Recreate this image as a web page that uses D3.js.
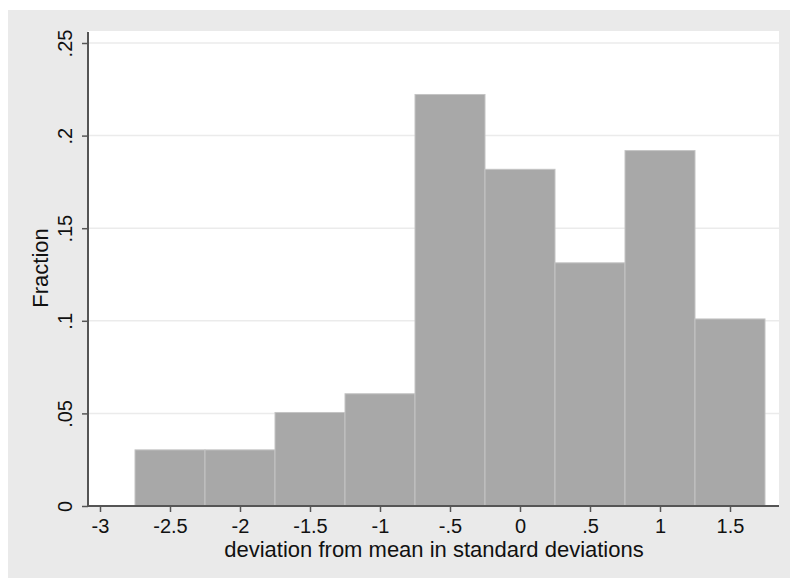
<!DOCTYPE html>
<html>
<head>
<meta charset="utf-8">
<script src="https://d3js.org/d3.v7.min.js"></script>
<style>
  body { margin: 0; background: #fff; }
  text { font-family: Arial, "Liberation Sans", sans-serif; fill: #111; }
</style>
</head>
<body>
<div id="chart"></div>
<script>
// histogram bins (left edge, bin width .5) and fraction in each bin
var binStarts = [-2.75, -2.25, -1.75, -1.25, -0.75, -0.25, 0.25, 0.75, 1.25];
var fractions = [0.0303, 0.0303, 0.0505, 0.0606, 0.2222, 0.1818, 0.1313, 0.1919, 0.1010];
var binWidth = 0.5;
var xTicks = [-3, -2.5, -2, -1.5, -1, -0.5, 0, 0.5, 1, 1.5];
var yTicks = [0, 0.05, 0.1, 0.15, 0.2, 0.25];

var W = 790, H = 578;
var margin = {top: 31, right: 11, bottom: 72, left: 88};
var width = W - margin.left - margin.right,
    height = H - margin.top - margin.bottom;

// stata style labels: .5 instead of 0.5
function fmt(d) { return String(d).replace(/^(-?)0\./, "$1."); }

var svg = d3.select("#chart").append("svg")
    .attr("width", W).attr("height", H);

// outer gray graph region
svg.append("rect").attr("x", 8).attr("y", 10)
    .attr("width", W - 8).attr("height", H - 10)
    .attr("fill", "#eaeaea");

var g = svg.append("g")
    .attr("transform", "translate(" + margin.left + "," + margin.top + ")");

g.append("rect").attr("width", width).attr("height", height).attr("fill", "#fff");

var x = d3.scaleLinear().domain([-3, 1.5]).range([12, 642]);
var y = d3.scaleLinear().domain([0, 0.25]).range([height, 12]);

// gridlines
g.selectAll(".grid").data(yTicks.slice(1)).enter().append("line")
    .attr("x1", 0).attr("x2", width)
    .attr("y1", function(d) { return y(d); })
    .attr("y2", function(d) { return y(d); })
    .attr("stroke", "#ebebeb").attr("stroke-width", 1.5);

// bars
g.selectAll(".bar").data(binStarts).enter().append("rect")
    .attr("x", function(d) { return x(d); })
    .attr("width", function(d) { return x(d + binWidth) - x(d); })
    .attr("y", function(d, i) { return y(fractions[i]); })
    .attr("height", function(d, i) { return y(0) - y(fractions[i]); })
    .attr("fill", "#a8a8a8")
    .attr("stroke", "#c4c4c4").attr("stroke-width", 1);

// x axis
var xAxis = g.append("g")
    .attr("transform", "translate(0," + height + ")")
    .call(d3.axisBottom(x).tickValues(xTicks).tickSize(6).tickSizeOuter(0).tickFormat(fmt));
xAxis.select(".domain").attr("stroke", "#555").attr("stroke-width", 2)
    .attr("d", "M0,0H" + width);
xAxis.selectAll(".tick line").attr("stroke", "#555").attr("stroke-width", 1.5);
xAxis.selectAll(".tick text").attr("font-size", 20).attr("dy", "0.9em").attr("fill", "#111");

// y axis
var yAxis = g.append("g")
    .call(d3.axisLeft(y).tickValues(yTicks).tickSize(6).tickSizeOuter(0).tickFormat(fmt));
yAxis.select(".domain").attr("stroke", "#555").attr("stroke-width", 2)
    .attr("d", "M0,1V" + height);
yAxis.selectAll(".tick line").attr("stroke", "#555").attr("stroke-width", 1.5);
yAxis.selectAll(".tick text")
    .attr("font-size", 20).attr("fill", "#111")
    .attr("x", 0).attr("dy", 0)
    .attr("text-anchor", "middle")
    .attr("transform", "translate(-16,0) rotate(-90)");

// axis titles
svg.append("text")
    .attr("x", 434).attr("y", 557)
    .attr("text-anchor", "middle").attr("font-size", 22)
    .text("deviation from mean in standard deviations");

svg.append("text")
    .attr("transform", "translate(48,268) rotate(-90)")
    .attr("text-anchor", "middle").attr("font-size", 22)
    .text("Fraction");
</script>
</body>
</html>
